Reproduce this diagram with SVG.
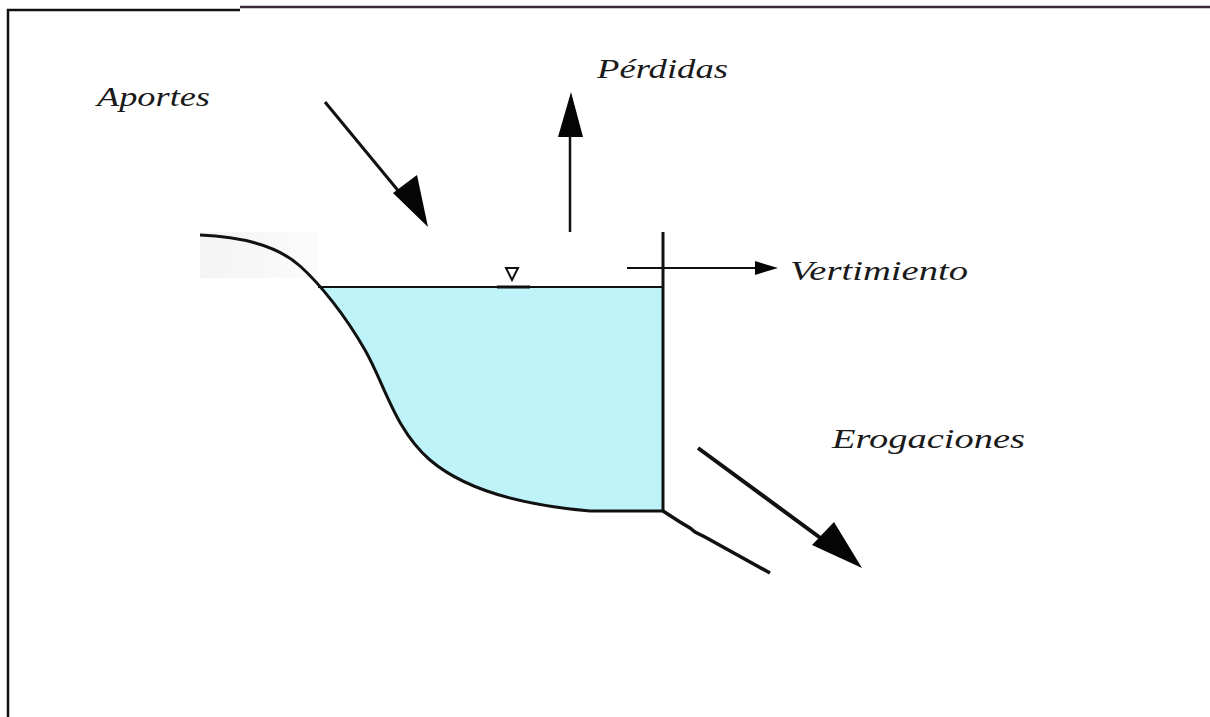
<svg xmlns="http://www.w3.org/2000/svg" width="1210" height="717" viewBox="0 0 1210 717">
<style>
.lbl{font-family:"Liberation Serif",serif;font-style:italic;font-size:27px;fill:#1a1a1a}
.ln{stroke:#111;fill:none}
.hd{fill:#050505}
</style>
<defs>
<linearGradient id="bankbg" x1="0" y1="0" x2="1" y2="0">
<stop offset="0" stop-color="#f4f4f4"/>
<stop offset="1" stop-color="#fbfbfb"/>
</linearGradient>
<clipPath id="below">
<rect x="0" y="287" width="1210" height="430"/>
</clipPath>
</defs>
<rect width="1210" height="717" fill="#fff"/>
<g id="frame">
<path d="M8,717 V10 H240" class="ln" stroke-width="2.5"/>
<path d="M240,7 H1210" stroke="#3a2a3a" stroke-width="2.5" fill="none"/>
</g>
<g id="reservoir">
<rect x="200" y="232" width="118" height="46" fill="url(#bankbg)"/>
<path d="M300,266 S345,315 365,350 S395,430 430,460 S520,505 590,511 L663,511 L663,266 Z" fill="#bff3fa" clip-path="url(#below)"/>
<path d="M200,235 C250,237 280,248 300,266 S345,315 365,350 S395,430 430,460 S520,505 590,511 L663,511" class="ln" stroke-width="3"/>
<path d="M318,287 H663" class="ln" stroke-width="2"/>
<path d="M663,232 V511" class="ln" stroke-width="3"/>
<path d="M663,511 L680,522 L690,528 L695,532 L705,537 L770,573" class="ln" stroke-width="3.5"/>
</g>
<g id="surface-mark">
<path d="M506,268 L518,268 L512,280 Z" fill="none" stroke="#111" stroke-width="2"/>
<path d="M497,287 H530" class="ln" stroke-width="3"/>
</g>
<g id="connectors">
<g id="aportes-arrow">
<path d="M325,102 L410,205" class="ln" stroke-width="3"/>
<path d="M393,193 L417,175 L428,227 Z" class="hd"/>
</g>
<g id="perdidas-arrow">
<path d="M570,232 V130" class="ln" stroke-width="2.5"/>
<path d="M558,137 L583,137 L571,92 Z" class="hd"/>
</g>
<g id="vertimiento-arrow">
<path d="M627,268 H760" class="ln" stroke-width="2"/>
<path d="M755,261 L778,268 L755,275 Z" class="hd"/>
</g>
<g id="erogaciones-arrow">
<path d="M698,448 L830,545" class="ln" stroke-width="4"/>
<path d="M812,545 L834,522 L862,568 Z" class="hd"/>
</g>
</g>
<g id="labels">
<text class="lbl" x="97" y="106" textLength="113" lengthAdjust="spacingAndGlyphs">Aportes</text>
<text class="lbl" x="597" y="78" textLength="131" lengthAdjust="spacingAndGlyphs">Pérdidas</text>
<text class="lbl" x="790" y="280" textLength="178" lengthAdjust="spacingAndGlyphs">Vertimiento</text>
<text class="lbl" x="832" y="448" textLength="193" lengthAdjust="spacingAndGlyphs">Erogaciones</text>
</g>
</svg>
